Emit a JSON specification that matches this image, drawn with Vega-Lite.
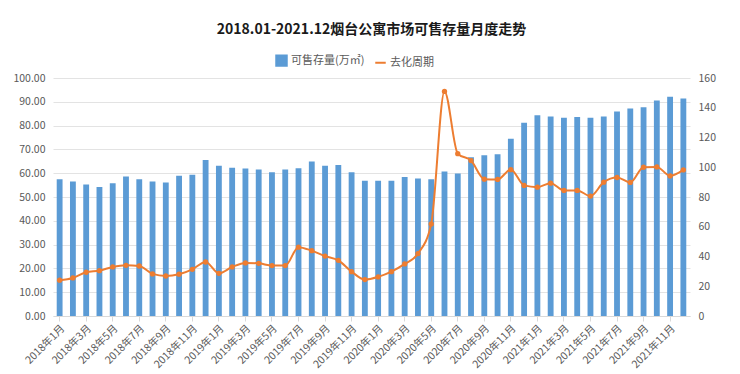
{
  "$schema": "https://vega.github.io/schema/vega-lite/v6.json",
  "autosize": {"type": "none"},
  "padding": {"left": 53, "top": 78, "right": 50, "bottom": 58},
  "width": 637,
  "height": 238,
  "background": "white",
  "title": {
    "text": "2018.01-2021.12烟台公寓市场可售存量月度走势",
    "font": "Noto Sans CJK SC",
    "fontSize": 14,
    "fontWeight": "bold",
    "color": "#1a1a1a",
    "anchor": "middle",
    "offset": 17
  },
  "config": {
    "view": {"stroke": null},
    "font": "Noto Sans CJK SC",
    "axis": {"labelFont": "Noto Sans CJK SC", "labelColor": "#595959", "labelFontSize": 10.5}
  },
  "data": {
    "values": [
      {"m": "2018年1月", "stock": 57.5, "cycle": 24.1},
      {"m": "2018年2月", "stock": 56.5, "cycle": 25.6},
      {"m": "2018年3月", "stock": 55.3, "cycle": 29.4},
      {"m": "2018年4月", "stock": 54.2, "cycle": 30.5},
      {"m": "2018年5月", "stock": 55.8, "cycle": 33.0},
      {"m": "2018年6月", "stock": 58.6, "cycle": 34.1},
      {"m": "2018年7月", "stock": 57.5, "cycle": 33.6},
      {"m": "2018年8月", "stock": 56.5, "cycle": 28.3},
      {"m": "2018年9月", "stock": 56.1, "cycle": 26.9},
      {"m": "2018年10月", "stock": 58.9, "cycle": 28.1},
      {"m": "2018年11月", "stock": 59.3, "cycle": 31.4},
      {"m": "2018年12月", "stock": 65.5, "cycle": 36.3},
      {"m": "2019年1月", "stock": 63.1, "cycle": 28.7},
      {"m": "2019年2月", "stock": 62.3, "cycle": 33.0},
      {"m": "2019年3月", "stock": 62.0, "cycle": 35.7},
      {"m": "2019年4月", "stock": 61.6, "cycle": 35.4},
      {"m": "2019年5月", "stock": 60.4, "cycle": 33.9},
      {"m": "2019年6月", "stock": 61.6, "cycle": 33.9},
      {"m": "2019年7月", "stock": 62.1, "cycle": 46.3},
      {"m": "2019年8月", "stock": 64.9, "cycle": 43.9},
      {"m": "2019年9月", "stock": 63.1, "cycle": 40.3},
      {"m": "2019年10月", "stock": 63.4, "cycle": 37.4},
      {"m": "2019年11月", "stock": 60.4, "cycle": 29.8},
      {"m": "2019年12月", "stock": 56.8, "cycle": 24.5},
      {"m": "2020年1月", "stock": 56.8, "cycle": 26.3},
      {"m": "2020年2月", "stock": 56.8, "cycle": 29.8},
      {"m": "2020年3月", "stock": 58.4, "cycle": 35.0},
      {"m": "2020年4月", "stock": 57.8, "cycle": 41.9},
      {"m": "2020年5月", "stock": 57.5, "cycle": 61.9},
      {"m": "2020年6月", "stock": 60.7, "cycle": 151.0},
      {"m": "2020年7月", "stock": 59.9, "cycle": 109.1},
      {"m": "2020年8月", "stock": 66.7, "cycle": 104.5},
      {"m": "2020年9月", "stock": 67.5, "cycle": 92.0},
      {"m": "2020年10月", "stock": 68.0, "cycle": 91.8},
      {"m": "2020年11月", "stock": 74.5, "cycle": 98.4},
      {"m": "2020年12月", "stock": 81.2, "cycle": 87.8},
      {"m": "2021年1月", "stock": 84.3, "cycle": 86.6},
      {"m": "2021年2月", "stock": 83.8, "cycle": 89.3},
      {"m": "2021年3月", "stock": 83.3, "cycle": 84.4},
      {"m": "2021年4月", "stock": 83.6, "cycle": 84.4},
      {"m": "2021年5月", "stock": 83.3, "cycle": 80.6},
      {"m": "2021年6月", "stock": 83.8, "cycle": 90.0},
      {"m": "2021年7月", "stock": 85.9, "cycle": 93.1},
      {"m": "2021年8月", "stock": 87.2, "cycle": 89.8},
      {"m": "2021年9月", "stock": 87.7, "cycle": 100.0},
      {"m": "2021年10月", "stock": 90.5, "cycle": 100.2},
      {"m": "2021年11月", "stock": 92.1, "cycle": 94.2},
      {"m": "2021年12月", "stock": 91.4, "cycle": 98.2}
    ]
  },
  "encoding": {
    "x": {
      "field": "m",
      "type": "ordinal",
      "sort": null,
      "scale": {"paddingInner": 0.56, "paddingOuter": 0.28},
      "axis": {
        "title": null,
        "labelAngle": -45,
        "labelAlign": "right",
        "labelBaseline": "top",
        "values": ["2018年1月","2018年3月","2018年5月","2018年7月","2018年9月","2018年11月","2019年1月","2019年3月","2019年5月","2019年7月","2019年9月","2019年11月","2020年1月","2020年3月","2020年5月","2020年7月","2020年9月","2020年11月","2021年1月","2021年3月","2021年5月","2021年7月","2021年9月","2021年11月"],
        "domainColor": "#d9d9d9",
        "tickColor": "#d9d9d9",
        "tickSize": 5,
        "labelPadding": 2
      }
    }
  },
  "layer": [
    {
      "mark": {"type": "bar", "color": "#5B9BD5"},
      "encoding": {
        "y": {
          "field": "stock",
          "type": "quantitative",
          "scale": {"domain": [0, 100]},
          "axis": {
            "title": null,
            "values": [0,10,20,30,40,50,60,70,80,90,100],
            "format": ".2f",
            "domain": false,
            "ticks": false,
            "gridColor": "#e3e3e3",
            "labelPadding": 8
          }
        },
        "color": {
          "datum": "可售存量(万㎡)",
          "type": "nominal",
          "scale": {"domain": ["可售存量(万㎡)", "去化周期"], "range": ["#5B9BD5", "#ED7D31"]},
          "legend": {
            "title": null,
            "orient": "none",
            "direction": "horizontal",
            "legendX": 222,
            "legendY": -24,
            "labelFont": "Noto Sans CJK SC",
            "labelFontSize": 11,
            "labelColor": "#595959",
            "symbolSize": 110,
            "columnPadding": 6,
            "labelOffset": 3,
            "encode": {
              "symbols": {
                "update": {
                  "shape": {"signal": "datum.value == '去化周期' ? 'stroke' : 'square'"},
                  "stroke": {"signal": "datum.value == '去化周期' ? '#ED7D31' : '#5B9BD5'"},
                  "strokeWidth": {"value": 2}
                }
              }
            }
          }
        }
      }
    },
    {
      "mark": {"type": "line", "interpolate": "monotone", "strokeWidth": 2, "point": {"filled": true, "size": 28}},
      "encoding": {
        "y": {
          "field": "cycle",
          "type": "quantitative",
          "scale": {"domain": [0, 160]},
          "axis": {
            "title": null,
            "orient": "right",
            "values": [0,20,40,60,80,100,120,140,160],
            "grid": false,
            "domain": false,
            "ticks": false,
            "labelPadding": 8
          }
        },
        "color": {"datum": "去化周期", "type": "nominal"}
      }
    }
  ],
  "resolve": {"scale": {"y": "independent"}}
}
